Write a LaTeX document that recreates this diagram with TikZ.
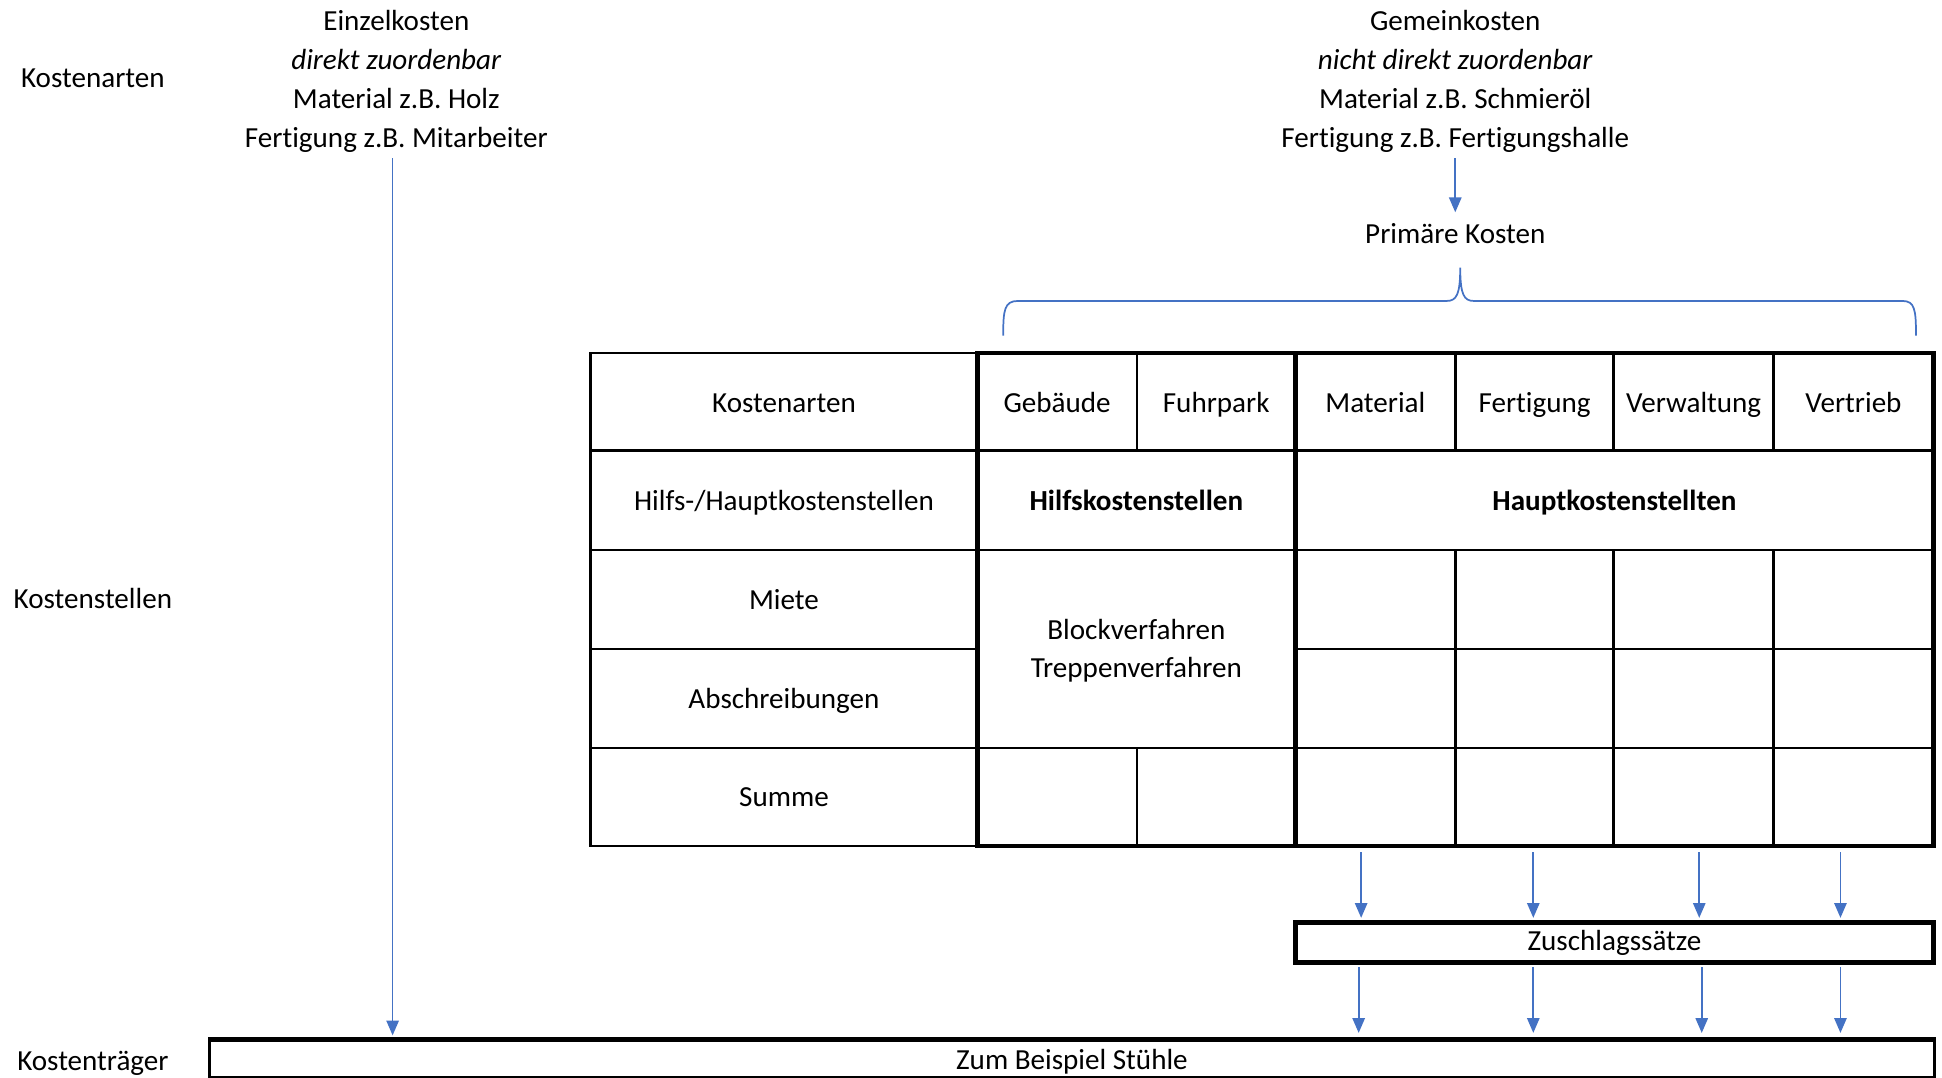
\documentclass[tikz,border=0pt]{standalone}
\usepackage{fontspec}
\setmainfont[Ligatures=NoCommon]{Carlito}
\usetikzlibrary{arrows.meta}
\definecolor{arrowblue}{HTML}{4472C4}
\begin{document}
\begin{tikzpicture}[x=0.5pt,y=-0.5pt,
  txt/.style={font=\fontsize{11.75pt}{15.75pt}\selectfont, inner sep=0pt, align=center},
  lbl/.style={txt, anchor=base},
  thinline/.style={line width=1.1pt},
  thickline/.style={line width=1.9pt},
  flow/.style={draw=arrowblue, line width=0.7pt, -{Triangle[length=6pt,width=5pt]}},
  brace/.style={draw=arrowblue, line width=0.7pt},
]
\useasboundingbox (0,0) rectangle (1568,870);

% side labels
\node[lbl] (lka) at (75,71) {Kostenarten};
\node[lbl] (lks) at (75,491) {Kostenstellen};
\node[lbl] (lkt) at (75,864) {Kostenträger};

% headers
\node[txt] (ek) at (320,66) {Einzelkosten\\\textit{direkt zuordenbar}\\Material z.B. Holz\\Fertigung z.B. Mitarbeiter};
\node[txt] (gk) at (1175,66) {Gemeinkosten\\\textit{nicht direkt zuordenbar}\\Material z.B. Schmieröl\\Fertigung z.B. Fertigungshalle};
\node[lbl] (pk) at (1175,197) {Primäre Kosten};

% brace
\draw[brace] (810,271) .. controls (810,250) and (811,243) .. (822,243) -- (1168,243)
  .. controls (1176,243) and (1179,238) .. (1179,216)
  .. controls (1179,238) and (1182,243) .. (1190,243) -- (1536,243)
  .. controls (1546,243) and (1547,250) .. (1547,271);

% table lines
\draw[thinline] (477,285) rectangle (789,683);
\foreach \y in {364,444,524,604} \draw[thinline] (477,\y) -- (789,\y);
\foreach \y in {364,444,604} \draw[thinline] (789,\y) -- (1561,\y);
\draw[thinline] (1046,524) -- (1561,524);
\draw[thinline] (918,285) -- (918,364);
\draw[thinline] (918,604) -- (918,683);
\foreach \x in {1175,1303,1432} {
  \draw[thinline] (\x,285) -- (\x,364);
  \draw[thinline] (\x,444) -- (\x,683);
}
\draw[thickline] (789,285) rectangle (1561,683);
\draw[thickline] (1046,285) -- (1046,683);

% table texts
\node[lbl] (c00) at (633,333) {Kostenarten};
\node[lbl] (c01) at (853.5,333) {Gebäude};
\node[lbl] (c02) at (982,333) {Fuhrpark};
\node[lbl] (c03) at (1110.5,333) {Material};
\node[lbl] (c04) at (1239,333) {Fertigung};
\node[lbl] (c05) at (1367.5,333) {Verwaltung};
\node[lbl] (c06) at (1496.5,333) {Vertrieb};
\node[lbl] (c10) at (633,412) {Hilfs-/Hauptkostenstellen};
\node[lbl] (c11) at (917.5,412) {\textbf{Hilfskostenstellen}};
\node[lbl] (c12) at (1303.5,412) {\textbf{Hauptkostenstellten}};
\node[lbl] (c20) at (633,492) {Miete};
\node[lbl] (c30) at (633,572) {Abschreibungen};
\node[lbl] (bv) at (917.5,516) {Blockverfahren};
\node[lbl] (tv) at (917.5,547) {Treppenverfahren};
\node[lbl] (c40) at (633,651.5) {Summe};

% Zuschlagssaetze box
\node[txt, draw, thickline, minimum width=257.5pt, minimum height=16pt, text height=0.84em, text depth=0.16em] (zs) at (1303.5,761) {Zuschlagssätze};

% bottom box
\node[txt, draw, line width=1pt, minimum width=696.5pt, minimum height=15pt, anchor=north west, text height=0.95em, text depth=0.1em] (kt) at (168,839) {Zum Beispiel Stühle};
\draw[thickline] (kt.north west) -- (kt.north east);

% connectors
\draw[flow, shorten <=2pt, shorten >=4.5pt] (gk.south) -- (pk.north);
\draw[flow, shorten <=2pt, shorten >=1.5pt] ([xshift=-1.5pt]ek.south) -- ([xshift=-1.5pt]ek.south |- kt.north);

\coordinate (za1) at (1099,683);
\coordinate (za2) at (1238,683);
\coordinate (za3) at (1372,683);
\coordinate (za4) at (1486,683);
\foreach \i in {1,2,3,4} \draw[flow, shorten <=2.5pt, shorten >=1pt] (za\i) -- (za\i |- zs.north);

\coordinate (zb1) at (1097,777);
\coordinate (zb2) at (1238,777);
\coordinate (zb3) at (1374,777);
\coordinate (zb4) at (1486,777);
\foreach \i in {1,2,3,4} \draw[flow, shorten <=1pt, shorten >=2.5pt] (zb\i |- zs.south) -- (zb\i |- kt.north);
\end{tikzpicture}
\end{document}
